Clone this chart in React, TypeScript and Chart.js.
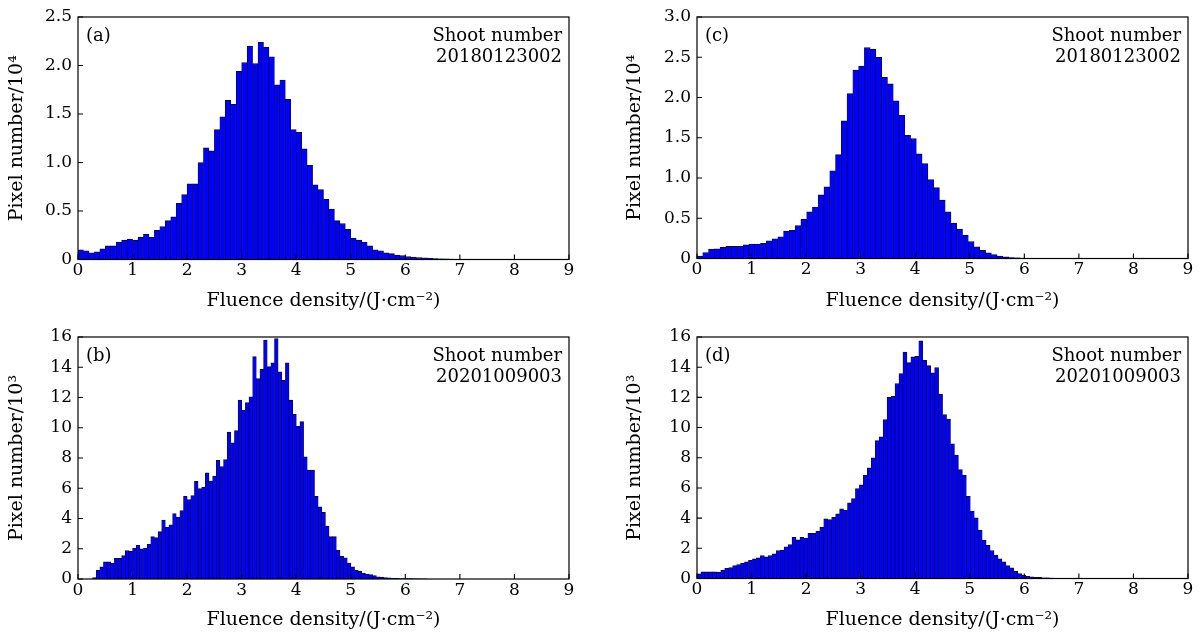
import React, { useEffect, useRef } from 'react';
import { Chart, registerables } from 'chart.js';

Chart.register(...registerables);

const FONT = "'DejaVu Serif', 'Liberation Serif', serif";

// x axis tick values (fluence density, J/cm^2)
const xTickValues = [0, 1, 2, 3, 4, 5, 6, 7, 8, 9];

// Panel (a): shoot 20180123002, pixel number / 10^4, bins of 0.1 starting at 0
const countsA = [
  0.10, 0.09, 0.07, 0.08, 0.11, 0.14, 0.14, 0.18, 0.20, 0.21,
  0.20, 0.23, 0.26, 0.23, 0.30, 0.34, 0.40, 0.44, 0.58, 0.67,
  0.78, 0.78, 1.00, 1.15, 1.12, 1.34, 1.47, 1.64, 1.60, 1.94,
  2.03, 2.20, 2.02, 2.24, 2.19, 2.09, 1.80, 1.85, 1.65, 1.34,
  1.31, 1.14, 0.97, 0.77, 0.72, 0.62, 0.52, 0.40, 0.37, 0.31,
  0.22, 0.20, 0.18, 0.14, 0.10, 0.09, 0.07, 0.06, 0.045, 0.04,
  0.03, 0.025, 0.02, 0.017, 0.014, 0.01, 0.008, 0.006, 0.004, 0.003,
  0.002, 0.001, 0.001, 0.0005, 0.0005,
];
const binStartA = 0;
const binWidthA = 0.1;

// Panel (c): shoot 20180123002, pixel number / 10^4
const countsC = [
  0.03, 0.075, 0.116, 0.12, 0.14, 0.15, 0.15, 0.15, 0.17, 0.18,
  0.18, 0.19, 0.22, 0.245, 0.27, 0.34, 0.35, 0.41, 0.49, 0.58,
  0.64, 0.79, 0.89, 1.09, 1.29, 1.71, 2.05, 2.34, 2.39, 2.62,
  2.60, 2.50, 2.25, 2.17, 1.96, 1.78, 1.53, 1.49, 1.30, 1.18,
  0.98, 0.88, 0.725, 0.58, 0.44, 0.365, 0.29, 0.21, 0.145, 0.10,
  0.07, 0.05, 0.03, 0.02, 0.012, 0.008, 0.005, 0.003, 0.002, 0.001,
];
const binStartC = 0;
const binWidthC = 0.1058;

// Panel (b): shoot 20201009003, pixel number / 10^3
const countsB = [
  0.1, 0.57, 0.8, 1.13, 1.13, 1.06, 1.37, 1.37, 1.55, 1.88,
  1.83, 2.03, 2.23, 2.0, 2.05, 2.3, 2.8, 2.74, 3.13, 3.9,
  3.44, 3.58, 4.33, 4.1, 4.53, 5.47, 5.25, 5.52, 6.45, 5.98,
  6.07, 7.02, 6.47, 6.8, 7.84, 7.44, 7.9, 9.71, 9.0, 9.82,
  11.83, 11.15, 11.66, 12.05, 14.7, 13.25, 13.86, 15.8, 14.04, 14.3,
  15.9, 13.7, 13.13, 14.3, 11.83, 10.88, 10.1, 10.4, 8.08, 7.2,
  7.2, 5.47, 4.77, 4.4, 3.5, 2.8, 2.8, 1.9, 1.5, 1.4,
  1.06, 0.8, 0.57, 0.5, 0.38, 0.33, 0.3, 0.22, 0.15, 0.13,
  0.1, 0.07, 0.05, 0.04, 0.03, 0.03, 0.02, 0.02, 0.01, 0.01,
  0.005, 0.005,
];
const binStartB = 0.2667;
const binWidthB = 0.0667;

// Panel (d): shoot 20201009003, pixel number / 10^3
const countsD = [
  0.31, 0.44, 0.44, 0.44, 0.44, 0.42, 0.55, 0.68, 0.73, 0.86,
  0.93, 1.02, 1.1, 1.21, 1.3, 1.37, 1.52, 1.43, 1.52, 1.63,
  1.85, 1.88, 2.1, 2.25, 2.72, 2.56, 2.72, 2.67, 3.0, 3.0,
  3.13, 3.4, 3.95, 3.9, 4.06, 4.28, 4.61, 4.52, 5.01, 5.3,
  5.96, 6.2, 6.84, 7.33, 7.99, 9.14, 9.38, 10.53, 12.0, 12.07,
  12.91, 13.58, 15.0, 14.3, 14.68, 14.72, 15.74, 14.46, 14.1, 13.62,
  13.97, 12.2, 10.86, 10.57, 8.92, 8.17, 7.22, 6.84, 5.45, 4.46,
  4.02, 3.2, 2.54, 2.19, 1.85, 1.55, 1.3, 1.1, 0.86, 0.7,
  0.49, 0.33, 0.22, 0.15, 0.11, 0.07, 0.07, 0.04, 0.04, 0.02,
  0.01, 0.01, 0.01, 0.005, 0.005,
];
const binStartD = 0;
const binWidthD = 0.0726;

const yTicksTop = [0, 0.5, 1.0, 1.5, 2.0, 2.5, 3.0];
const yTicksBottom = [0, 2, 4, 6, 8, 10, 12, 14, 16];

const X_TITLE = 'Fluence density/(J\u00B7cm\u207B\u00B2)';

type Panel = {
  tag: string;
  shoot: string;
  counts: number[];
  binStart: number;
  binWidth: number;
  yMax: number;
  yStep: number;
  yTitle: string;
  decimals: number;
  pos: { left: number; top: number; width: number; height: number };
  area: { left: number; top: number; right: number; bottom: number };
  xTitlePad: number;
};

const panels: Panel[] = [
  {
    tag: '(a)', shoot: '20180123002', counts: countsA, binStart: binStartA, binWidth: binWidthA,
    yMax: yTicksTop[5], yStep: 0.5, yTitle: 'Pixel number/10\u2074', decimals: 1,
    pos: { left: 0, top: 0, width: 599, height: 317 },
    area: { left: 78, top: 17, right: 569, bottom: 259.5 },
    xTitlePad: 5,
  },
  {
    tag: '(c)', shoot: '20180123002', counts: countsC, binStart: binStartC, binWidth: binWidthC,
    yMax: yTicksTop[6], yStep: 0.5, yTitle: 'Pixel number/10\u2074', decimals: 1,
    pos: { left: 618, top: 0, width: 581, height: 317 },
    area: { left: 79, top: 17, right: 570, bottom: 258.5 },
    xTitlePad: 5,
  },
  {
    tag: '(b)', shoot: '20201009003', counts: countsB, binStart: binStartB, binWidth: binWidthB,
    yMax: yTicksBottom[8], yStep: 2, yTitle: 'Pixel number/10\u00B3', decimals: 0,
    pos: { left: 0, top: 317, width: 599, height: 317 },
    area: { left: 78, top: 20, right: 569, bottom: 262 },
    xTitlePad: 3,
  },
  {
    tag: '(d)', shoot: '20201009003', counts: countsD, binStart: binStartD, binWidth: binWidthD,
    yMax: yTicksBottom[8], yStep: 2, yTitle: 'Pixel number/10\u00B3', decimals: 0,
    pos: { left: 618, top: 317, width: 581, height: 317 },
    area: { left: 79, top: 20, right: 570, bottom: 261.5 },
    xTitlePad: 3,
  },
];

const framePlugin = {
  id: 'frame',
  afterDraw(chart: any, _args: any, opts: any) {
    const { ctx, chartArea: a, scales } = chart;
    ctx.save();
    ctx.strokeStyle = '#000';
    ctx.lineWidth = 1.2;
    ctx.strokeRect(a.left, a.top, a.right - a.left, a.bottom - a.top);
    ctx.lineWidth = 1.1;
    ctx.beginPath();
    scales.x.ticks.forEach((t: any) => {
      const px = scales.x.getPixelForValue(t.value);
      ctx.moveTo(px, a.bottom);
      ctx.lineTo(px, a.bottom - 5);
    });
    scales.y.ticks.forEach((t: any) => {
      const py = scales.y.getPixelForValue(t.value);
      ctx.moveTo(a.left, py);
      ctx.lineTo(a.left + 5, py);
    });
    ctx.stroke();
    ctx.fillStyle = '#000';
    ctx.font = `18px ${FONT}`;
    ctx.textBaseline = 'alphabetic';
    ctx.textAlign = 'left';
    ctx.fillText(opts.tag, a.left + 8, a.top + 24);
    ctx.textAlign = 'right';
    ctx.fillText('Shoot number', a.right - 7, a.top + 24);
    ctx.fillText(opts.shoot, a.right - 7, a.top + 45);
    ctx.restore();
  },
};

function PanelChart({ p }: { p: Panel }) {
  const ref = useRef<HTMLCanvasElement | null>(null);
  useEffect(() => {
    if (!ref.current) return;
    const points = p.counts.map((v, i) => ({ x: p.binStart + (i + 0.5) * p.binWidth, y: v }));
    const chart = new Chart(ref.current, {
      type: 'bar',
      data: {
        datasets: [
          {
            data: points as any,
            backgroundColor: '#0000ff',
            borderColor: '#0a0a28',
            borderWidth: { left: 0.7, right: 0.7, top: 0.9, bottom: 0 } as any,
            borderSkipped: false as any,
            barPercentage: 1,
            categoryPercentage: 1,
          },
        ],
      },
      options: {
        animation: false,
        responsive: false,
        maintainAspectRatio: false,
        events: [],
        layout: {
          padding: { left: 0, top: p.area.top, right: p.pos.width - p.area.right, bottom: 0 },
        },
        plugins: {
          legend: { display: false },
          tooltip: { enabled: false },
          frame: { tag: p.tag, shoot: p.shoot },
        } as any,
        scales: {
          x: {
            type: 'linear',
            min: xTickValues[0],
            max: xTickValues[xTickValues.length - 1],
            offset: false,
            grid: { display: false, drawTicks: false },
            border: { display: false },
            ticks: {
              stepSize: 1,
              autoSkip: false,
              maxRotation: 0,
              padding: 1,
              color: '#000',
              font: { family: FONT, size: 17 },
            },
            title: {
              display: true,
              text: X_TITLE,
              color: '#000',
              font: { family: FONT, size: 19 },
              padding: { top: 0, bottom: p.xTitlePad },
            },
            afterFit: (s: any) => {
              s.height = p.pos.height - p.area.bottom;
            },
          },
          y: {
            type: 'linear',
            min: 0,
            max: p.yMax,
            grid: { display: false, drawTicks: false },
            border: { display: false },
            ticks: {
              stepSize: p.yStep,
              padding: 6,
              color: '#000',
              font: { family: FONT, size: 17 },
              callback: (v: any) => (Number(v) === 0 ? '0' : Number(v).toFixed(p.decimals)),
            },
            title: {
              display: true,
              text: p.yTitle,
              color: '#000',
              font: { family: FONT, size: 19 },
              padding: { top: 6, bottom: 0 },
            },
            afterFit: (s: any) => {
              s.width = p.area.left;
            },
          },
        },
      } as any,
      plugins: [framePlugin as any],
    });
    return () => chart.destroy();
  }, [p]);
  return (
    <canvas
      ref={ref}
      width={p.pos.width}
      height={p.pos.height}
      style={{
        position: 'absolute',
        left: p.pos.left,
        top: p.pos.top,
        width: p.pos.width,
        height: p.pos.height,
      }}
    />
  );
}

export default function App() {
  return (
    <div
      style={{
        position: 'fixed',
        left: 0,
        top: 0,
        width: 1199,
        height: 634,
        background: '#ffffff',
        overflow: 'hidden',
      }}
    >
      {panels.map((p) => (
        <PanelChart key={p.tag} p={p} />
      ))}
    </div>
  );
}
